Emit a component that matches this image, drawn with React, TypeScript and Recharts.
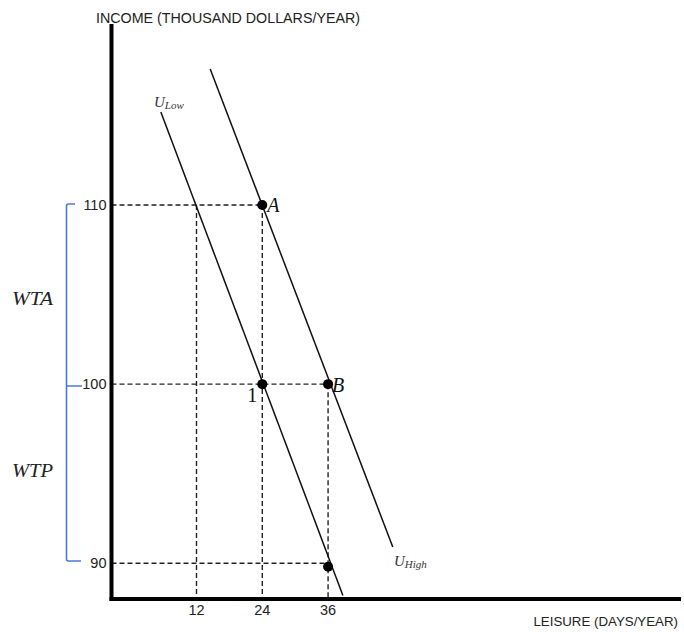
import React from "react";
import { ComposedChart, XAxis, YAxis, Line, Scatter, ReferenceLine } from "recharts";

// the reference fills the whole window, so drop the default body margin
if (typeof document !== "undefined") document.body.style.margin = "0";

// axis ticks
const leisureTicks = [12, 24, 36];
const incomeTicks = [90, 100, 110];

// indifference curves (end points)
const uLowLeisure = [5.5, 38.7];
const uLowIncome = [115.2, 88.2];
const uHighLeisure = [14.5, 47.8];
const uHighIncome = [117.6, 90.9];

// marked points
const pointNames = ["A", "1", "B", ""];
const pointLeisure = [24, 24, 36, 36];
const pointIncome = [110, 100, 100, 89.8];

// dashed guides
const hGuideIncome = [110, 100, 90];
const hGuideTo = [24, 36, 36];
const vGuideLeisure = [12, 24, 36];
const vGuideFrom = [110, 110, 100];

const X_MIN = -3.5;
const Y_MIN = 88;

const uLow = uLowLeisure.map((x, i) => ({ leisure: x, income: uLowIncome[i] }));
const uHigh = uHighLeisure.map((x, i) => ({ leisure: x, income: uHighIncome[i] }));
const points = pointNames.map((n, i) => ({ name: n, leisure: pointLeisure[i], income: pointIncome[i] }));

const serif = "'Liberation Serif', 'DejaVu Serif', serif";
const sans = "'Liberation Sans', Arial, sans-serif";

const PointShape = (props: any) => {
  const { cx, cy, payload } = props;
  const name = payload?.name;
  let label = null;
  if (name === "A")
    label = <text x={cx + 5} y={cy + 7} fontSize={20} fontStyle="italic" fontFamily={serif} fill="#111">A</text>;
  if (name === "B")
    label = <text x={cx + 4} y={cy + 8} fontSize={20} fontStyle="italic" fontFamily={serif} fill="#111">B</text>;
  if (name === "1")
    label = <text x={cx - 5} y={cy + 18} textAnchor="end" fontSize={20} fontFamily={serif} fill="#111">1</text>;
  return (
    <g>
      <circle cx={cx} cy={cy} r={5} fill="#000" />
      {label}
    </g>
  );
};

const dash = { stroke: "#222", strokeWidth: 1.4, strokeDasharray: "5 3" };

export default function App() {
  return (
    <div style={{ position: "relative", width: 684, height: 632, background: "#fff" }}>
      <ComposedChart width={684} height={632} margin={{ top: 26, right: 5, bottom: 13, left: 71.5 }}>
        <XAxis
          type="number"
          dataKey="leisure"
          domain={[X_MIN, 100]}
          ticks={leisureTicks}
          height={20}
          tickLine={false}
          tickSize={0}
          tickMargin={6}
          axisLine={{ stroke: "#000", strokeWidth: 4, strokeLinecap: "square" }}
          tick={{ fill: "#222", fontSize: 14.5, fontFamily: sans }}
          allowDataOverflow
        />
        <YAxis
          type="number"
          dataKey="income"
          domain={[Y_MIN, 120]}
          ticks={incomeTicks}
          width={40}
          tickLine={false}
          tickSize={0}
          tickMargin={5}
          axisLine={{ stroke: "#000", strokeWidth: 4, strokeLinecap: "square" }}
          tick={{ fill: "#222", fontSize: 14.5, fontFamily: sans }}
          allowDataOverflow
        />
        {hGuideIncome.map((y, i) => (
          <ReferenceLine
            key={"h" + i}
            segment={[{ x: X_MIN, y }, { x: hGuideTo[i], y }]}
            {...dash}
          />
        ))}
        {vGuideLeisure.map((x, i) => (
          <ReferenceLine
            key={"v" + i}
            segment={[{ x, y: vGuideFrom[i] }, { x, y: Y_MIN }]}
            {...dash}
          />
        ))}
        <Line data={uLow} dataKey="income" type="linear" stroke="#111" strokeWidth={1.5} dot={false} isAnimationActive={false} />
        <Line data={uHigh} dataKey="income" type="linear" stroke="#111" strokeWidth={1.5} dot={false} isAnimationActive={false} />
        <Scatter data={points} dataKey="income" shape={PointShape} isAnimationActive={false} />
      </ComposedChart>
      <svg
        width={684}
        height={632}
        style={{ position: "absolute", left: 0, top: 0, pointerEvents: "none" }}
      >
        <text x={96} y={23} fontSize={14} fontFamily={sans} fill="#222" textLength={264} lengthAdjust="spacingAndGlyphs">
          INCOME (THOUSAND DOLLARS/YEAR)
        </text>
        <text x={678} y={626} textAnchor="end" fontSize={13.3} fontFamily={sans} fill="#222">
          LEISURE (DAYS/YEAR)
        </text>
        <path d="M75 204 H68.5 Q66.5 204 66.5 206 V559 Q66.5 561 68.5 561 H81 M66.5 386 H82" fill="none" stroke="#4a7bd4" strokeWidth={1.6} />
        <text x={12} y={305} fontSize={19} fontStyle="italic" fontFamily={serif} fill="#222" textLength={41} lengthAdjust="spacingAndGlyphs">
          WTA
        </text>
        <text x={12} y={477} fontSize={19} fontStyle="italic" fontFamily={serif} fill="#222" textLength={41} lengthAdjust="spacingAndGlyphs">
          WTP
        </text>
        <text x={154} y={107} fontSize={15} fontStyle="italic" fontFamily={serif} fill="#333">
          U<tspan fontSize={11} dy={2}>Low</tspan>
        </text>
        <text x={394} y={566} fontSize={15} fontStyle="italic" fontFamily={serif} fill="#333">
          U<tspan fontSize={11} dy={2}>High</tspan>
        </text>
      </svg>
    </div>
  );
}
